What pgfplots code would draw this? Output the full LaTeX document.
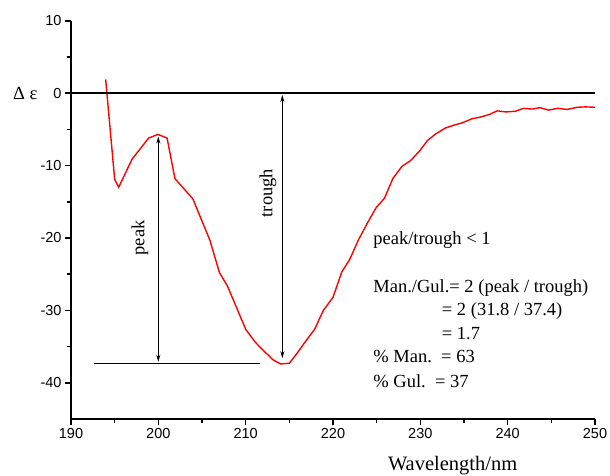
\documentclass[border=0pt]{standalone}
\usepackage{fontspec}
\setmainfont{Liberation Serif}
\setsansfont{Liberation Sans}
\usepackage{pgfplots}
\pgfplotsset{compat=1.18}
\usetikzlibrary{arrows.meta}

\begin{document}
\begin{tikzpicture}
% frame of the whole picture, 1pt = 1px of the reference
\useasboundingbox (-71pt,-56pt) rectangle (539pt,419pt);
\begin{axis}[
    scale only axis,
    width=524pt, height=398.3pt,
    xmin=190, xmax=250, ymin=-45, ymax=10,
    axis x line=bottom, axis y line=left,
    axis line style={-, line width=1.8pt},
    xtick={190,200,...,250}, ytick={-40,-30,...,10},
    minor x tick num=1, minor y tick num=1,
    tick align=outside,
    major tick length=6pt, minor tick length=4pt,
    tick style={black, line width=1.6pt},
    tick label style={font=\sffamily\fontsize{14.5}{14.5}\selectfont},
    /pgf/number format/assume math mode=true,
    clip=false,
]
% CD spectrum
\addplot[red, line width=1.4pt] coordinates {
    (193.97,1.9) (195.0,-11.9) (195.46,-13.0) (197.0,-9.1) (198.9,-6.2)
    (199.95,-5.7) (201.0,-6.2) (201.9,-11.8) (203.95,-14.6) (205.9,-20.3)
    (207.0,-24.8) (207.9,-26.6) (210.0,-32.6) (211.1,-34.4) (212.0,-35.5)
    (213.1,-36.8) (214.0,-37.4) (215.0,-37.3) (215.9,-35.9) (216.9,-34.2)
    (217.9,-32.6) (218.9,-30.0) (220.0,-28.2) (221.0,-24.7) (221.9,-23.0)
    (222.9,-20.3) (224.0,-17.8) (224.95,-15.8) (225.9,-14.5) (226.85,-11.8)
    (227.9,-10.1) (228.9,-9.3) (229.9,-8.0) (230.85,-6.5) (231.8,-5.6)
    (232.9,-4.8) (233.9,-4.4) (234.8,-4.1) (235.9,-3.55) (236.9,-3.3)
    (237.9,-2.95) (238.8,-2.45) (239.8,-2.6) (240.9,-2.5) (241.8,-2.1)
    (242.8,-2.2) (243.7,-2.0) (244.7,-2.35) (245.7,-2.1) (246.8,-2.25)
    (248.0,-1.95) (248.9,-1.9) (250.0,-1.95)
};
% zero line
\addplot[black, line width=1.5pt] coordinates {(190,0) (250,0)};

% peak / trough markers
\draw[{Stealth[length=7pt,width=4pt]}-{Stealth[length=7pt,width=4pt]}, line width=0.8pt]
    (axis cs:200,-6.0) -- (axis cs:200,-37.1);
\draw[{Stealth[length=7pt,width=4pt]}-{Stealth[length=7pt,width=4pt]}, line width=0.8pt]
    (axis cs:214.2,-0.26) -- (axis cs:214.2,-36.6);
\draw[line width=1pt] (axis cs:192.67,-37.4) -- (axis cs:211.64,-37.4);
\node[rotate=90, font=\fontsize{18.5}{20}\selectfont] at (axis cs:197.9,-20.0) {peak};
\node[rotate=90, font=\fontsize{18.5}{20}\selectfont] at (axis cs:212.56,-13.8) {trough};

% labels
\node[anchor=east, xshift=-30pt, font=\fontsize{18.5}{20}\selectfont] at (axis cs:190,0) {Δ ε};
\node[anchor=base, yshift=-51pt, font=\fontsize{20.5}{22}\selectfont] at (axis cs:233.7,-45) {Wavelength/nm};

% ratio text
\begin{scope}[every node/.style={anchor=base west, inner sep=0pt, font=\fontsize{18.5}{20}\selectfont}]
\node at (axis cs:224.6,-20.95) {peak/trough < 1};
\node at (axis cs:224.6,-27.52) {Man./Gul.= 2 (peak / trough)};
\node at (axis cs:232.45,-30.75) {= 2 (31.8 / 37.4)};
\node at (axis cs:232.45,-33.97) {= 1.7};
\node at (axis cs:224.6,-37.19) {\% Man.\ \ = 63};
\node at (axis cs:224.6,-40.64) {\% Gul.\ \ = 37};
\end{scope}
\end{axis}
\end{tikzpicture}
\end{document}
